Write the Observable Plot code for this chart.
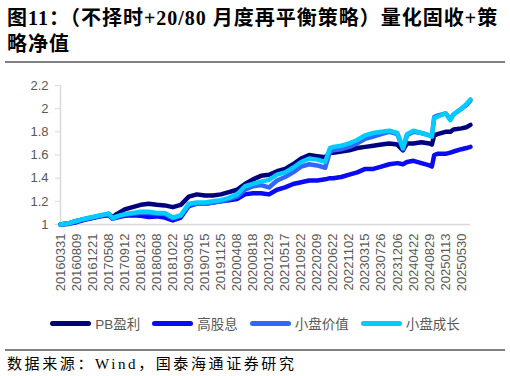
<!DOCTYPE html>
<html><head><meta charset="utf-8">
<script src="https://cdn.jsdelivr.net/npm/d3@7"></script>
<script src="https://cdn.jsdelivr.net/npm/@observablehq/plot@0.6"></script>
<style>
body{margin:0;width:510px;height:376px;position:relative;background:#fff;overflow:hidden}
#title{position:absolute;left:7px;top:5px;font-family:"Liberation Serif","Noto Sans CJK SC",serif;font-weight:bold;font-size:20px;line-height:26px;color:#000;white-space:nowrap;letter-spacing:1px}
.rule{position:absolute;left:5px;width:500px;height:2px;background:#808080}
#chart{position:absolute;left:0;top:70px}
#legend{position:absolute;left:0;width:510px;top:313px;display:flex;justify-content:center;align-items:center;font-family:"Liberation Sans","Noto Sans CJK SC",sans-serif;font-size:13.5px;color:#595959}
#legend .item{display:flex;align-items:center;margin:0 6px}
#legend .sw{display:inline-block;width:41px;height:5px;border-radius:3px;margin-right:4px}
#source{position:absolute;left:7px;top:352px;font-family:"Liberation Serif","Noto Sans CJK SC",serif;font-size:15px;letter-spacing:2.6px;color:#000;white-space:nowrap}
</style></head>
<body>
<div id="title">图11：（不择时+20/80 月度再平衡策略）量化固收+策<br>略净值</div>
<div class="rule" style="top:61px"></div>
<div id="chart"></div>
<div id="legend"></div>
<div class="rule" style="top:349px"></div>
<div id="source">数据来源：Wind，国泰海通证券研究</div>
<script>
// x tick labels (dates), placed at equal trading-day intervals
const tickLabels = ["20160331","20160809","20161221","20170508","20170912","20180123","20180608","20181022","20190305","20190715","20191125","20200408","20200818","20201229","20210517","20210922","20220209","20220622","20221102","20230315","20230726","20231206","20240422","20240829","20250113","20250530"];
const yTicks = [1, 1.2, 1.4, 1.6, 1.8, 2, 2.2];
const seriesNames = ["PB盈利", "高股息", "小盘价值", "小盘成长"];
const seriesColors = ["#00007f", "#0a0af5", "#3366ff", "#00ccff"];
// sample positions, in units of tick-label intervals
const period = [0,0.5,1,1.5,2,2.5,3,3.25,3.5,4,4.5,5,5.5,6,6.5,7,7.5,8,8.5,9,9.5,10,10.5,11,11.5,12,12.5,13,13.5,14,14.5,15,15.5,16,16.5,16.8,17,17.5,18,18.5,19,19.5,20,20.5,21,21.35,21.6,22,22.5,23,23.15,23.3,23.5,24,24.3,24.5,25,25.3,25.56];
const pbProfit = [1.00,1.01,1.03,1.045,1.06,1.075,1.09,1.06,1.09,1.13,1.15,1.17,1.18,1.17,1.165,1.15,1.17,1.24,1.26,1.25,1.25,1.26,1.28,1.30,1.35,1.39,1.42,1.43,1.46,1.48,1.52,1.57,1.60,1.59,1.58,1.62,1.62,1.63,1.64,1.66,1.67,1.68,1.69,1.70,1.69,1.64,1.70,1.70,1.71,1.70,1.69,1.77,1.78,1.80,1.80,1.82,1.83,1.84,1.86];
const highDividend = [1.00,1.005,1.02,1.04,1.055,1.07,1.08,1.05,1.06,1.075,1.08,1.075,1.065,1.07,1.06,1.035,1.06,1.16,1.18,1.18,1.19,1.20,1.21,1.22,1.26,1.27,1.27,1.26,1.30,1.32,1.35,1.365,1.38,1.38,1.39,1.40,1.40,1.41,1.43,1.45,1.48,1.48,1.50,1.52,1.53,1.52,1.54,1.55,1.53,1.51,1.50,1.60,1.61,1.61,1.62,1.63,1.65,1.66,1.67];
const smallValue = [1.00,1.01,1.03,1.045,1.06,1.075,1.09,1.05,1.065,1.085,1.095,1.10,1.10,1.095,1.09,1.055,1.075,1.17,1.18,1.18,1.19,1.20,1.22,1.24,1.30,1.33,1.34,1.32,1.38,1.41,1.45,1.50,1.52,1.51,1.49,1.63,1.64,1.65,1.67,1.70,1.74,1.76,1.78,1.80,1.78,1.65,1.77,1.80,1.79,1.77,1.76,1.93,1.94,1.96,1.91,1.95,2.00,2.03,2.07];
const smallGrowth = [1.00,1.01,1.03,1.05,1.065,1.08,1.095,1.055,1.07,1.09,1.10,1.11,1.11,1.10,1.10,1.06,1.08,1.18,1.19,1.19,1.20,1.21,1.23,1.26,1.33,1.35,1.37,1.385,1.43,1.45,1.49,1.54,1.57,1.56,1.54,1.66,1.67,1.68,1.70,1.73,1.77,1.79,1.80,1.81,1.79,1.66,1.78,1.81,1.79,1.77,1.76,1.92,1.93,1.96,1.90,1.95,2.00,2.04,2.08];

const allSeries = [pbProfit, highDividend, smallValue, smallGrowth];
const rows = [];
allSeries.forEach((vals, k) => vals.forEach((v, i) => rows.push({t: period[i], v, s: seriesNames[k]})));

const chart = Plot.plot({
  width: 510, height: 230,
  marginTop: 15, marginLeft: 60, marginRight: 40, marginBottom: 76,
  x: {type: "linear", domain: [0, 25.56]},
  y: {domain: [1, 2.2]},
  color: {domain: seriesNames, range: seriesColors},
  style: {fontFamily: "'Liberation Sans', Arial, sans-serif", fontSize: "13px", color: "#595959", background: "transparent"},
  marks: [
    Plot.ruleY([1], {stroke: "#d9d9d9", strokeWidth: 1.5}),
    Plot.ruleX([0], {stroke: "#d9d9d9", strokeWidth: 1.5}),
    Plot.axisY({ticks: yTicks, tickFormat: d => String(+d.toFixed(1)), tickSize: 5, tickPadding: 7, stroke: "#d9d9d9", fill: "#595959", label: null}),
    Plot.axisX({ticks: d3.range(tickLabels.length), tickFormat: i => tickLabels[i], tickRotate: -90, tickSize: 0, tickPadding: 9, fill: "#595959", label: null}),
    Plot.line(rows, {x: "t", y: "v", z: "s", stroke: "s", strokeWidth: 4.5, strokeLinejoin: "round", strokeLinecap: "round"})
  ]
});
document.getElementById("chart").appendChild(chart);

const legend = document.getElementById("legend");
seriesNames.forEach((n, k) => {
  const it = document.createElement("div");
  it.className = "item";
  const sw = document.createElement("span");
  sw.className = "sw";
  sw.style.background = seriesColors[k];
  const tx = document.createElement("span");
  tx.textContent = n;
  it.appendChild(sw); it.appendChild(tx);
  legend.appendChild(it);
});
</script>
</body></html>
